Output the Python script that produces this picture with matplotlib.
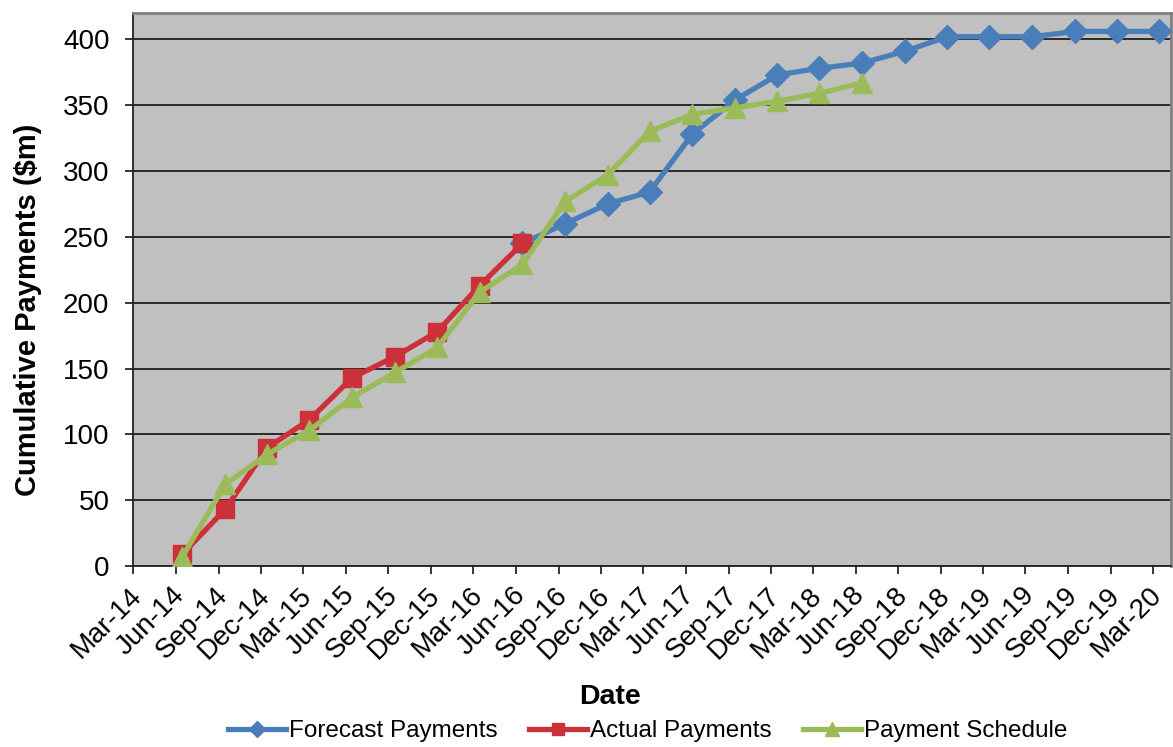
import matplotlib
matplotlib.use("Agg")
import matplotlib.pyplot as plt
import matplotlib.transforms as mtransforms
from datetime import datetime

plt.rcParams["font.family"] = ["Liberation Sans", "DejaVu Sans"]

# Quarterly axis labels
quarter_labels = [
    "Mar-14", "Jun-14", "Sep-14", "Dec-14",
    "Mar-15", "Jun-15", "Sep-15", "Dec-15",
    "Mar-16", "Jun-16", "Sep-16", "Dec-16",
    "Mar-17", "Jun-17", "Sep-17", "Dec-17",
    "Mar-18", "Jun-18", "Sep-18", "Dec-18",
    "Mar-19", "Jun-19", "Sep-19", "Dec-19",
    "Mar-20",
]

# Cumulative payments ($m), one value per quarter
actual_quarters = quarter_labels[1:10]          # Jun-14 .. Jun-16
actual_values = [9, 43, 90, 111, 143, 159, 178, 213, 245]

schedule_quarters = quarter_labels[1:18]        # Jun-14 .. Jun-18
schedule_values = [7, 62, 85, 103, 128, 147, 166, 208, 229,
                   277, 297, 330, 343, 348, 353, 359, 367]

forecast_quarters = quarter_labels[9:25]        # Jun-16 .. Mar-20
forecast_values = [245, 260, 275, 284, 328, 354, 373, 378,
                   382, 391, 402, 402, 402, 406, 406, 406]


def tick_date(label):
    return datetime.strptime("01-" + label, "%d-%b-%y")


def payment_date(label):
    # payments are booked mid-month
    return datetime.strptime("15-" + label, "%d-%b-%y")


fig = plt.figure(figsize=(11.73, 7.47), dpi=100)
ax = fig.add_axes([0.1134, 0.2423, 0.885, 0.7403])
ax.set_facecolor("#C0C0C0")

blue = "#4A7EBB"
red = "#CC3038"
green = "#9BBB59"

ax.plot([payment_date(q) for q in forecast_quarters], forecast_values,
        color=blue, lw=3.8, marker="D", ms=12, mec=blue, mfc=blue,
        label="Forecast Payments", zorder=3)
ax.plot([payment_date(q) for q in actual_quarters], actual_values,
        color=red, lw=3.8, marker="s", ms=12.5, mec=red, mfc=red,
        label="Actual Payments", zorder=4)
ax.plot([payment_date(q) for q in schedule_quarters], schedule_values,
        color=green, lw=3.8, marker="^", ms=14.5, mec=green, mfc=green,
        label="Payment Schedule", zorder=5)

ax.set_ylim(0, 420)
ax.set_yticks(range(0, 401, 50))
ax.yaxis.grid(True, color="#111111", lw=1.2)
ax.set_axisbelow(True)

ticks = [tick_date(q) for q in quarter_labels]
ax.set_xticks(ticks)
ax.set_xticklabels(quarter_labels, rotation=45, ha="right",
                   rotation_mode="anchor")
ax.set_xlim(ticks[0], datetime(2020, 4, 9))

ax.tick_params(axis="both", direction="out", length=6, width=1.1,
               colors="black", labelsize=20)
ax.tick_params(axis="x", pad=5)
ax.tick_params(axis="y", pad=11)

# small nudge of the slanted date labels toward their ticks
shift = mtransforms.ScaledTranslation(-0.04, -0.01, fig.dpi_scale_trans)
for lbl in ax.get_xticklabels():
    lbl.set_transform(lbl.get_transform() + shift)

for side in ("left", "bottom"):
    ax.spines[side].set_color("#222222")
    ax.spines[side].set_linewidth(1.3)
for side in ("top", "right"):
    ax.spines[side].set_color("#808080")
    ax.spines[side].set_linewidth(2)

ax.set_ylabel("Cumulative Payments ($m)", fontsize=21, fontweight="bold",
              va="center")
ax.yaxis.set_label_coords(-0.1012, 0.463)
ax.set_xlabel("Date", fontsize=20.5, fontweight="bold", va="center")
ax.xaxis.set_label_coords(0.4595, -0.237)

fig.legend(loc="center", bbox_to_anchor=(0.552, 0.021), ncol=3,
           frameon=False, fontsize=17.5, handlelength=2.4, columnspacing=1.3,
           handletextpad=0.1, markerscale=0.7)

fig.savefig("out.png", dpi=100)
